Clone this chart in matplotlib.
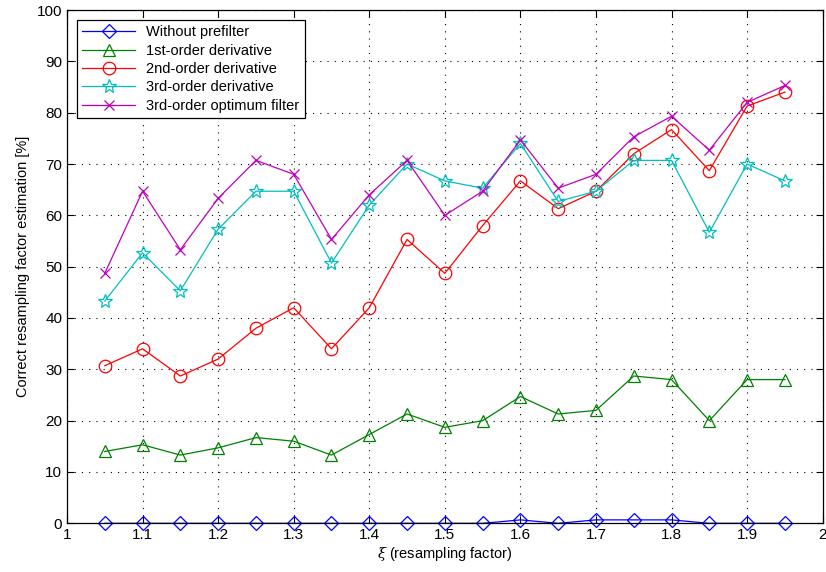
import matplotlib
matplotlib.use("Agg")
import matplotlib.pyplot as plt

plt.rcParams['font.family'] = ['Liberation Sans', 'DejaVu Sans']
plt.rcParams['mathtext.fontset'] = 'dejavuserif'

xi = [1.05, 1.10, 1.15, 1.20, 1.25, 1.30, 1.35, 1.40, 1.45, 1.50,
      1.55, 1.60, 1.65, 1.70, 1.75, 1.80, 1.85, 1.90, 1.95]

without_prefilter = [0, 0, 0, 0, 0, 0, 0, 0, 0, 0,
                     0, 0.67, 0, 0.67, 0.67, 0.67, 0, 0, 0]
first_order = [14.0, 15.3, 13.3, 14.7, 16.7, 16.0, 13.3, 17.3, 21.3, 18.7,
               20.0, 24.7, 21.3, 22.0, 28.7, 28.0, 20.0, 28.0, 28.0]
second_order = [30.7, 34.0, 28.7, 32.0, 38.0, 42.0, 34.0, 42.0, 55.3, 48.7,
                58.0, 66.7, 61.3, 64.7, 72.0, 76.7, 68.7, 81.3, 84.0]
third_order = [43.3, 52.7, 45.3, 57.3, 64.7, 64.7, 50.7, 62.0, 70.0, 66.7,
               65.3, 74.0, 62.7, 64.7, 70.7, 70.7, 56.7, 70.0, 66.7]
third_optimum = [48.7, 64.7, 53.3, 63.3, 70.7, 68.0, 55.3, 64.0, 70.7, 60.0,
                 64.7, 74.7, 65.3, 68.0, 75.3, 79.3, 72.7, 82.0, 85.3]

series = [
    ("Without prefilter", without_prefilter, '#0000ff', 'D', 7.5),
    ("1st-order derivative", first_order, '#008000', '^', 9),
    ("2nd-order derivative", second_order, '#ff0000', 'o', 9),
    ("3rd-order derivative", third_order, '#00bfbf', '*', 10),
    ("3rd-order optimum filter", third_optimum, '#bf00bf', 'x', 7),
]

fig = plt.figure(figsize=(8.26, 5.72), dpi=100)
ax = fig.add_axes([0.0811, 0.0851, 0.9149, 0.8974])

for label, vals, color, marker, ms in series:
    ax.plot(xi, vals, color=color, marker=marker, markersize=ms,
            markerfacecolor='none', markeredgecolor=color,
            markeredgewidth=0.9, linewidth=0.9, label=label, clip_on=False)

ax.set_xlim(1, 2)
ax.set_ylim(0, 100)
ax.set_xticks([1 + 0.1 * i for i in range(11)])
ax.set_xticklabels(['1', '1.1', '1.2', '1.3', '1.4', '1.5', '1.6', '1.7',
                    '1.8', '1.9', '2'])
ax.set_yticks(range(0, 101, 10))
ax.tick_params(direction='in', top=True, right=True, labelsize=11,
               length=5, width=0.8)
ax.grid(True, linestyle=(0, (1, 5.5)), color='black', linewidth=0.8)
for sp in ax.spines.values():
    sp.set_linewidth(0.9)

ax.set_xlabel(r'$\xi$ (resampling factor)', fontsize=10.5, labelpad=2)
ax.set_ylabel('Correct resampling factor estimation [%]', fontsize=10.5,
              labelpad=5)

leg = ax.legend(loc='upper left', fontsize=10.5, handlelength=3.6,
                frameon=True, fancybox=False, framealpha=1,
                edgecolor='black', borderpad=0.35, labelspacing=0.3,
                borderaxespad=0.7)
leg.get_frame().set_linewidth(0.9)

fig.savefig('out.png', dpi=100)
